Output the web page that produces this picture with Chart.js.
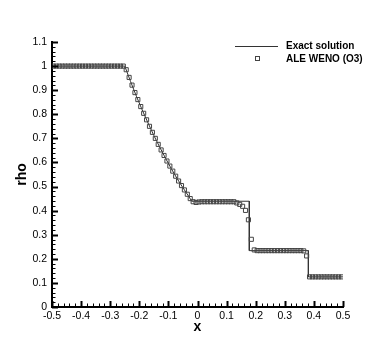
<!DOCTYPE html>
<html>
<head>
<meta charset="utf-8">
<script src="https://cdn.jsdelivr.net/npm/chart.js@4/dist/chart.umd.min.js"></script>
<style>
  html, body { margin: 0; padding: 0; background: #fff; }
  #wrap { width: 390px; height: 347px; }
</style>
</head>
<body>
<div id="wrap"><canvas id="rho"></canvas></div>
<script>
// exact solution
const exactX = [-0.5, -0.25, -0.23, -0.21, -0.19, -0.17, -0.15, -0.13, -0.11, -0.09, -0.07, -0.05, -0.03, -0.02, 0.178, 0.178, 0.381, 0.381, 0.5]
const exactRho = [1, 1, 0.936, 0.875, 0.818, 0.764, 0.712, 0.664, 0.618, 0.574, 0.533, 0.495, 0.459, 0.439, 0.439, 0.234, 0.234, 0.125, 0.125]

// ALE WENO (O3) cell values
const cellX = [
  -0.495, -0.485, -0.475, -0.465, -0.455, -0.445, -0.435, -0.425, -0.415, -0.405,
  -0.395, -0.385, -0.375, -0.365, -0.355, -0.345, -0.335, -0.325, -0.315, -0.305,
  -0.295, -0.285, -0.275, -0.265, -0.255, -0.245, -0.235, -0.225, -0.215, -0.205,
  -0.195, -0.185, -0.175, -0.165, -0.155, -0.145, -0.135, -0.125, -0.115, -0.105,
  -0.095, -0.085, -0.075, -0.065, -0.055, -0.045, -0.035, -0.025, -0.015, -0.005,
  0.005, 0.015, 0.025, 0.035, 0.045, 0.055, 0.065, 0.075, 0.085, 0.095,
  0.105, 0.115, 0.125, 0.135, 0.145, 0.155, 0.165, 0.175, 0.185, 0.195,
  0.205, 0.215, 0.225, 0.235, 0.245, 0.255, 0.265, 0.275, 0.285, 0.295,
  0.305, 0.315, 0.325, 0.335, 0.345, 0.355, 0.365, 0.375, 0.385, 0.395,
  0.405, 0.415, 0.425, 0.435, 0.445, 0.455, 0.465, 0.475, 0.485, 0.495
]
const cellRho = [
  1, 1, 1, 1, 1, 1, 1, 1, 1, 1,
  1, 1, 1, 1, 1, 1, 1, 1, 1, 1,
  1, 1, 1, 1, 1, 0.985, 0.953, 0.921, 0.890, 0.861,
  0.832, 0.804, 0.777, 0.750, 0.725, 0.700, 0.675, 0.652, 0.629, 0.606,
  0.585, 0.564, 0.543, 0.523, 0.504, 0.486, 0.468, 0.450, 0.437, 0.434,
  0.436, 0.437, 0.437, 0.437, 0.437, 0.437, 0.437, 0.437, 0.437, 0.437,
  0.437, 0.437, 0.437, 0.432, 0.426, 0.418, 0.401, 0.362, 0.281, 0.237,
  0.234, 0.234, 0.234, 0.234, 0.234, 0.234, 0.234, 0.234, 0.234, 0.234,
  0.234, 0.234, 0.234, 0.234, 0.234, 0.234, 0.233, 0.212, 0.125, 0.125,
  0.125, 0.125, 0.125, 0.125, 0.125, 0.125, 0.125, 0.125, 0.125, 0.125
]

const legendLabels = ['Exact solution', 'ALE WENO (O3)']
const FONT = 'Arial, "Liberation Sans", Helvetica, sans-serif'

//ticks pointing inward, titles and legend
const decor = {
  id: 'decor',
  afterDraw(chart) {
    const ctx = chart.ctx
    const xs = chart.scales.x
    const ys = chart.scales.y
    ctx.save()
    ctx.strokeStyle = '#000'
    for (let i = 0; i <= 55; i++) {
      const py = Math.round(ys.getPixelForValue(i * 0.02)) + 0.5
      const major = i % 5 == 0
      ctx.lineWidth = major ? 2 : 1
      ctx.beginPath()
      ctx.moveTo(xs.left, py)
      ctx.lineTo(xs.left + (major ? 6 : 3.5), py)
      ctx.stroke()
    }
    for (let i = 0; i <= 50; i++) {
      const px = Math.round(xs.getPixelForValue(-0.5 + i * 0.02)) + 0.5
      const major = i % 5 == 0
      ctx.lineWidth = major ? 2 : 1
      ctx.beginPath()
      ctx.moveTo(px, ys.bottom)
      ctx.lineTo(px, ys.bottom - (major ? 6 : 3.5))
      ctx.stroke()
    }

    // axis titles
    ctx.fillStyle = '#000'
    ctx.font = 'bold 14px ' + FONT
    ctx.textAlign = 'center'
    ctx.textBaseline = 'middle'
    ctx.fillText('x', (xs.left + xs.right) / 2, 327)
    ctx.translate(22, (ys.top + ys.bottom) / 2)
    ctx.rotate(-Math.PI / 2)
    ctx.fillText('rho', 0, 0)
    ctx.setTransform(1, 0, 0, 1, 0, 0)

    // legend
    ctx.lineWidth = 1
    ctx.strokeStyle = '#333'
    ctx.beginPath()
    ctx.moveTo(235, 46.5)
    ctx.lineTo(278, 46.5)
    ctx.stroke()
    ctx.strokeStyle = '#444'
    ctx.strokeRect(255.5, 56.5, 4, 4)
    ctx.font = 'bold 10px ' + FONT
    ctx.textAlign = 'left'
    ctx.fillText(legendLabels[0], 286, 46)
    ctx.fillText(legendLabels[1], 286, 59)
    ctx.restore()
  }
}

let ctx = document.querySelector('#rho')
new Chart(ctx, {
  type: 'scatter',
  data: {
    datasets: [
      {
        label: legendLabels[1],
        data: cellX.map((x, i) => ({ x: x, y: cellRho[i] })),
        pointStyle: 'rect',
        pointRadius: 2.9,
        pointBorderWidth: 1,
        pointBorderColor: '#444',
        pointBackgroundColor: 'rgba(0,0,0,0)',
        showLine: false
      },
      {
        label: legendLabels[0],
        data: exactX.map((x, i) => ({ x: x, y: exactRho[i] })),
        showLine: true,
        borderColor: '#333',
        borderWidth: 1,
        pointRadius: 0,
        tension: 0
      }
    ]
  },
  options: {
    responsive: true,
    maintainAspectRatio: false,
    animation: false,
    layout: { padding: { top: 42, right: 47, left: 0, bottom: 0 } },
    plugins: { legend: { display: false }, tooltip: { enabled: false } },
    scales: {
      x: {
        type: 'linear',
        min: -0.5,
        max: 0.5,
        afterFit: s => { s.height = 40 },
        grid: { display: false, drawTicks: false },
        border: { display: true, color: '#000', width: 2 },
        ticks: {
          stepSize: 0.1,
          padding: 3,
          color: '#000',
          font: { family: FONT, size: 10.5 },
          maxRotation: 0,
          callback: v => String(Math.round(v * 10) / 10)
        }
      },
      y: {
        type: 'linear',
        min: 0,
        max: 1.1,
        afterFit: s => { s.width = 52 },
        grid: { display: false, drawTicks: false },
        border: { display: true, color: '#000', width: 2 },
        ticks: {
          stepSize: 0.1,
          padding: 5,
          color: '#000',
          font: { family: FONT, size: 10.5 },
          callback: v => String(Math.round(v * 10) / 10)
        }
      }
    }
  },
  plugins: [decor]
})
</script>
</body>
</html>
